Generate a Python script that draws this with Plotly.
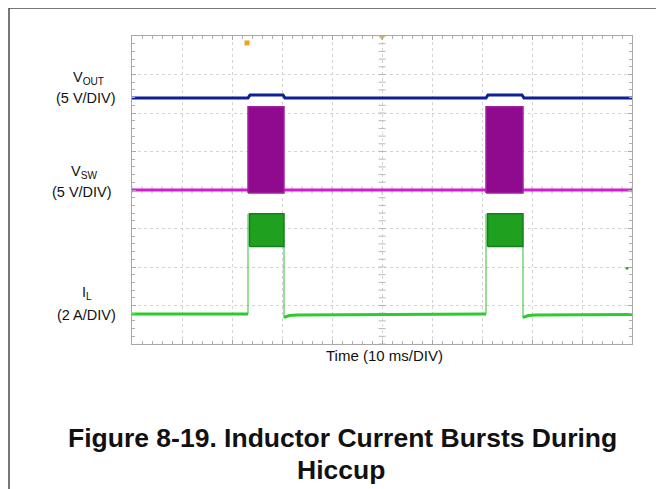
import plotly.graph_objects as go

# ---------------- data (read from the scope capture) ----------------
# time in ms (10 ms/DIV, 10 divisions)
burst_start = [23.2, 70.8]
burst_end = [30.4, 78.2]

# V_OUT (5 V/DIV)
vout_t = [0, 23.2, 23.6, 30.2, 30.6, 70.8, 71.2, 78.0, 78.4, 100]
vout_v = [0, 0, 0.4, 0.4, 0, 0, 0.4, 0.4, 0, 0]

# V_SW (5 V/DIV)
vsw_t = [0, 100]
vsw_v = [0, 0]
vsw_low = -0.4
vsw_high = 10.8

# I_L (2 A/DIV)
il_t = [0, 23.2, None, 30.4, 30.7, 31.5, 33.0, 70.8, None, 78.2, 78.5, 79.3, 80.8, 100]
il_a = [0, 0, None, -0.2, -0.15, -0.08, -0.05, 0, None, -0.2, -0.15, -0.08, -0.05, -0.03]
il_valley = 3.5
il_peak = 5.2
il_undershoot = -0.2

# channel scales (units per division) and screen offsets (divisions)
vout_scale, vout_offset = 5.0, 6.39
vsw_scale, vsw_offset = 5.0, 4.0
il_scale, il_offset = 2.0, 0.78

# ---------------- layout geometry ----------------
# the page has an 8px body margin, so the figure is drawn 8px in and 8px down
OFF = 8
W, H = 664 - OFF, 489 - OFF
L, R, T, B = 132 - OFF, 32, 36 - OFF, 145
PW, PH = W - L - R, H - T - B


def px(x):
    return (x - OFF - L) / PW


def py(y):
    return (H - B - (y - OFF)) / PH


def dv(vals, scale, off):
    return [None if v is None else off + v / scale for v in vals]


fig = go.Figure()

# centre graticule tick marks
fig.add_trace(go.Scatter(
    x=[i * 2 for i in range(51)], y=[4] * 51, mode="markers",
    marker=dict(symbol="line-ns", size=5, line=dict(color="#b8b8b8", width=1)),
    hoverinfo="skip", showlegend=False))
fig.add_trace(go.Scatter(
    x=[50] * 41, y=[i * 0.2 for i in range(41)], mode="markers",
    marker=dict(symbol="line-ew", size=5, line=dict(color="#b8b8b8", width=1)),
    hoverinfo="skip", showlegend=False))

# V_OUT
fig.add_trace(go.Scatter(
    x=vout_t, y=dv(vout_v, vout_scale, vout_offset), mode="lines",
    line=dict(color="#0f1f94", width=3), hoverinfo="skip", showlegend=False))

# V_SW baseline and bursts
fig.add_trace(go.Scatter(
    x=vsw_t, y=dv(vsw_v, vsw_scale, vsw_offset), mode="lines",
    line=dict(color="#d21ed2", width=3), hoverinfo="skip", showlegend=False))
for s, e in zip(burst_start, burst_end):
    fig.add_trace(go.Scatter(
        x=[s, s, e, e, s],
        y=dv([vsw_low, vsw_high, vsw_high, vsw_low, vsw_low], vsw_scale, vsw_offset),
        mode="lines", fill="toself", fillcolor="#900a90",
        line=dict(color="#a020a0", width=1.5), hoverinfo="skip", showlegend=False))

# I_L baseline
fig.add_trace(go.Scatter(
    x=il_t, y=dv(il_a, il_scale, il_offset), mode="lines",
    line=dict(color="#2ccc2c", width=3), connectgaps=False,
    hoverinfo="skip", showlegend=False))
# I_L burst edges and envelopes
for s, e in zip(burst_start, burst_end):
    fig.add_trace(go.Scatter(
        x=[s, s, None, e, e],
        y=dv([0, il_peak, None, il_valley, il_undershoot], il_scale, il_offset),
        mode="lines", line=dict(color="#30c030", width=1),
        hoverinfo="skip", showlegend=False))
    fig.add_trace(go.Scatter(
        x=[s + 0.3, s + 0.3, e, e, s + 0.3],
        y=dv([il_valley, il_peak, il_peak, il_valley, il_valley], il_scale, il_offset),
        mode="lines", fill="toself", fillcolor="#1fa01f",
        line=dict(color="#15801a", width=1.5), hoverinfo="skip", showlegend=False))

# small scope markers
fig.add_trace(go.Scatter(
    x=[23.0], y=[7.82], mode="markers",
    marker=dict(symbol="square", size=5, color="#f0a020"),
    hoverinfo="skip", showlegend=False))
fig.add_trace(go.Scatter(
    x=[50], y=[7.97], mode="markers",
    marker=dict(symbol="triangle-down", size=6, color="#f0b040"),
    hoverinfo="skip", showlegend=False))
fig.add_trace(go.Scatter(
    x=[99], y=[1.97], mode="markers",
    marker=dict(symbol="circle", size=3, color="#30b030"),
    hoverinfo="skip", showlegend=False))

axis_common = dict(
    showticklabels=False, showgrid=True, gridcolor="#d4d4d4", griddash="dot",
    gridwidth=1, zeroline=False, showline=True, linecolor="#a8a8a8", linewidth=1,
    mirror="allticks", ticks="inside", ticklen=4, tickcolor="#a8a8a8", fixedrange=True)

fig.update_xaxes(range=[0, 100], dtick=10, tick0=0,
                 minor=dict(dtick=2, ticks="inside", ticklen=3, tickcolor="#b0b0b0"),
                 **axis_common)
fig.update_yaxes(range=[0, 8], dtick=1, tick0=0,
                 minor=dict(dtick=0.2, ticks="inside", ticklen=3, tickcolor="#b0b0b0"),
                 **axis_common)

font = "Liberation Sans, Arial, sans-serif"
ann = []


def label(text, x, y, size=14.5, bold=False):
    ann.append(dict(text=("<b>%s</b>" % text) if bold else text,
                    x=px(x), y=py(y), xref="paper", yref="paper",
                    showarrow=False, xanchor="center", yanchor="middle",
                    font=dict(family=font, size=size, color="#111111")))


label("V<sub>OUT</sub>", 88, 78)
label("(5 V/DIV)", 86, 98)
label("V<sub>SW</sub>", 84, 172)
label("(5 V/DIV)", 82, 192)
label("I<sub>L</sub>", 87, 293)
label("(2 A/DIV)", 86, 315)
label("Time (10 ms/DIV)", 384, 355, size=15)
label("Figure 8-19. Inductor Current Bursts During", 342, 438, size=26.5, bold=True)
label("Hiccup", 341, 470, size=26.5, bold=True)

shapes = [
    dict(type="line", xref="paper", yref="paper", x0=px(9), x1=px(9), y0=py(489 + 5), y1=py(8),
         line=dict(color="#4a4a4a", width=1.5)),
    dict(type="line", xref="paper", yref="paper", x0=px(9), x1=px(664 + 5), y0=py(8), y1=py(8),
         line=dict(color="#4a4a4a", width=1.5)),
]

fig.update_layout(
    width=W, height=H, margin=dict(l=L, r=R, t=T, b=B),
    paper_bgcolor="white", plot_bgcolor="white",
    annotations=ann, shapes=shapes, showlegend=False,
    font=dict(family=font))

fig.write_html("out.html", config={"displayModeBar": False})
